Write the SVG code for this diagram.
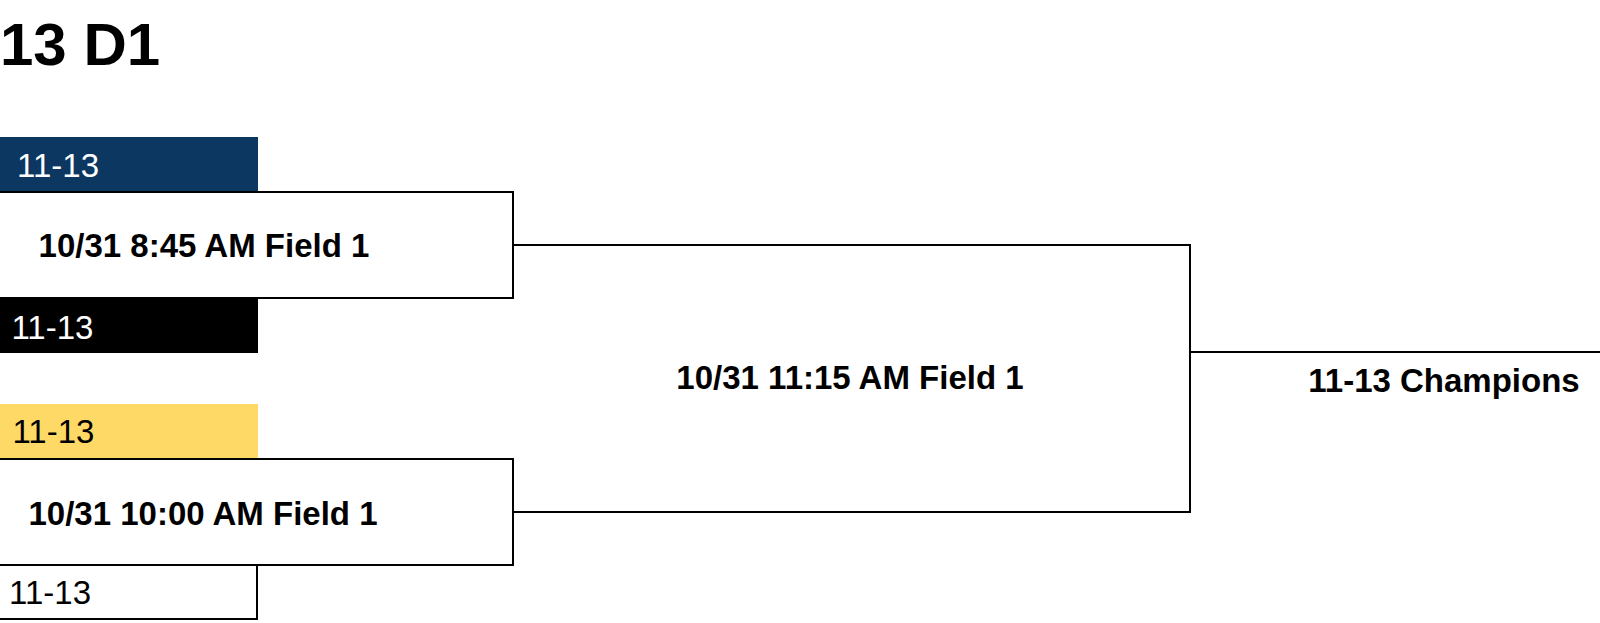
<svg xmlns="http://www.w3.org/2000/svg" width="1600" height="623" viewBox="0 0 1600 623">
<style>
.title{font-family:"Liberation Sans",Arial,sans-serif;font-weight:bold;font-size:60px;fill:#000}
.slot{font-family:"Liberation Sans",Arial,sans-serif;font-size:33px}
.match{font-family:"Liberation Sans",Arial,sans-serif;font-weight:bold;font-size:33px;fill:#000;text-anchor:middle}
.box{fill:#fff;stroke:#000;stroke-width:2}
.conn{fill:none;stroke:#000;stroke-width:2}
</style>
<rect x="0" y="0" width="1600" height="623" fill="#fff"/>
<text class="title" x="0" y="65">13 D1</text>
<g id="slot1">
<rect x="-200" y="137" width="458" height="55" fill="#0b3761"/>
<text class="slot" x="17.1" y="176.7" fill="#fff">11-13</text>
</g>
<g id="slot2">
<rect x="-200" y="298" width="458" height="55" fill="#000"/>
<text class="slot" x="11.4" y="339.3" fill="#fff">11-13</text>
</g>
<g id="slot3">
<rect x="-200" y="404" width="458" height="55" fill="#ffd966"/>
<text class="slot" x="12.4" y="443.3" fill="#000">11-13</text>
</g>
<g id="slot4">
<rect class="box" x="-200" y="565" width="457" height="54"/>
<text class="slot" x="9.1" y="604" fill="#000">11-13</text>
</g>
<g id="match1">
<rect class="box" x="-200" y="192" width="713" height="106"/>
<text class="match" x="204" y="257">10/31 8:45 AM Field 1</text>
</g>
<g id="match2">
<rect class="box" x="-200" y="459" width="713" height="106"/>
<text class="match" x="203" y="525">10/31 10:00 AM Field 1</text>
</g>
<g id="connectors">
<path class="conn" d="M513 245 H1190 V512 H513"/>
<path class="conn" d="M1190 352 H1600"/>
</g>
<g id="match3">
<text class="match" x="850" y="389.3">10/31 11:15 AM Field 1</text>
</g>
<g id="champion">
<text class="match" x="1444" y="391.7">11-13 Champions</text>
</g>
</svg>
